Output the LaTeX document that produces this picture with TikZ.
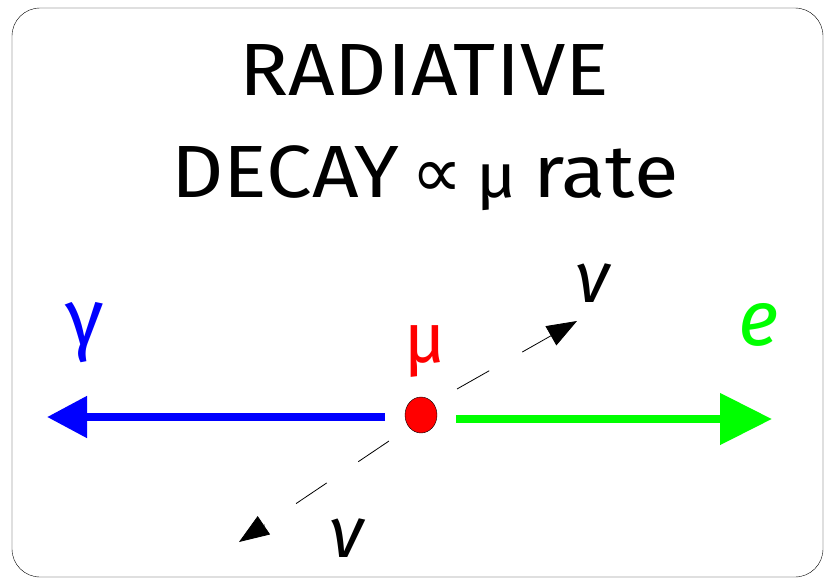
\documentclass[tikz,border=0pt]{standalone}
\usepackage{fontspec}
\setmainfont{Fira Sans}
\newfontfamily\titlefnt{Fira Sans}[FakeStretch=1.1]
\newfontfamily\symfnt{DejaVu Sans}
\usetikzlibrary{arrows.meta, shapes.geometric}

\begin{document}
\begin{tikzpicture}[x=1pt, y=-1pt, every node/.style={inner sep=0pt},
    fat/.style={line width=8pt},
    nuline/.style={line width=0.8pt, dash pattern=on 37pt off 38pt, -{Triangle[length=30pt,width=22pt]}},
    big/.style={font=\titlefnt\fontsize{74}{74}\selectfont}]
  \useasboundingbox (0,0) rectangle (825,579);
  \draw[rounded corners=28pt] (12,8) rectangle (823,577);
  % title
  \node[big, anchor=base] (title1) at (424,95) {RADIATIVE};
  \node[big, anchor=base] (title2) at (425,197) {DECAY\hspace{12pt}{\symfnt\fontsize{72}{72}\selectfont ∝}\hspace{14pt}{\fontsize{62}{62}\selectfont μ}\hspace{16pt}rate};
  % muon at rest
  \node[draw, fill=red, ellipse, minimum width=32pt, minimum height=36pt] (mu) at (421,415) {};
  \node[text=red, font=\fontsize{70}{70}\selectfont, anchor=base] (mulab) at (425,362) {μ};
  % photon and electron
  \coordinate (gfrom) at (385,417);
  \coordinate (gto) at (47,417);
  \coordinate (efrom) at (456,419);
  \coordinate (eto) at (772,419);
  \draw[fat, blue, -{Triangle[length=40pt,width=40pt]}] (gfrom) -- (gto);
  \draw[fat, green, -{Triangle[length=52pt,width=50pt]}] (efrom) -- (eto);
  \node[text=blue, font=\fontsize{80}{80}\selectfont, anchor=base] (glab) at (85,345) {γ};
  \node[text=green, font=\itshape\fontsize{78}{78}\selectfont, anchor=base] (elab) at (759,345) {e};
  % neutrinos
  \coordinate (nufrom1) at (457,389);
  \coordinate (nuto1) at (577,321);
  \coordinate (nufrom2) at (389,441);
  \coordinate (nuto2) at (239,542);
  \draw[nuline] (nufrom1) -- (nuto1);
  \draw[nuline] (nufrom2) -- (nuto2);
  \node[font=\itshape\fontsize{72}{72}\selectfont, anchor=base] (nulab1) at (593,302) {ν};
  \node[font=\itshape\fontsize{72}{72}\selectfont, anchor=base] (nulab2) at (347,557) {ν};
\end{tikzpicture}
\end{document}
